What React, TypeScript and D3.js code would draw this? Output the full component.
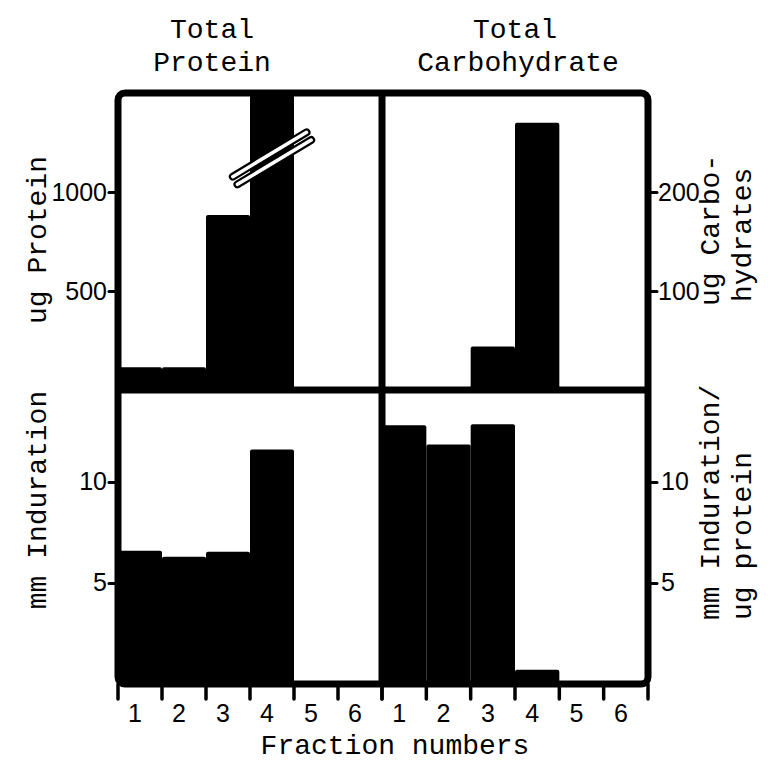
import React from 'react';
import * as d3 from 'd3';

// values, one entry per fraction
const fractions = ['1', '2', '3', '4', '5', '6'];
const proteinUg = [115, 115, 884, 1800, 0, 0]; // fraction 4 runs off scale (axis break)
const carbohydrateUg = [0, 0, 44, 270, 0, 0];
const indurationMm = [6.6, 6.3, 6.55, 11.6, 0, 0];
const indurationPerProtein = [12.8, 11.85, 12.85, 0.7, 0, 0];

const proteinTicks = [500, 1000];
const carbohydrateTicks = [100, 200];
const indurationTicks = [5, 10];

const MONO = '"Liberation Mono", "DejaVu Sans Mono", monospace';
const SANS = '"Liberation Sans", Arial, sans-serif';

const App = () => {
    const svgRef = React.useRef<SVGSVGElement>(null);

    const width = 784;
    const height = 770;
    const left = 118, mid = 382, right = 648;
    const top = 93, midY = 390, bottom = 684;

    React.useEffect(() => {
        const svg = d3.select(svgRef.current);
        svg.selectAll('*').remove();

        const xLeft = d3.scaleBand().domain(fractions).range([left, mid]).padding(0);
        const xRight = d3.scaleBand().domain(fractions).range([mid, right]).padding(0);

        const yProtein = d3.scaleLinear().domain([0, 1500]).range([midY, top]).clamp(true);
        const yCarbo = d3.scaleLinear().domain([0, 300]).range([midY, top]).clamp(true);
        const yInd = d3.scaleLinear().domain([0, 14.55]).range([bottom, midY]).clamp(true);

        const panels = [
            { x: xLeft, y: yProtein, values: proteinUg, base: midY },
            { x: xRight, y: yCarbo, values: carbohydrateUg, base: midY },
            { x: xLeft, y: yInd, values: indurationMm, base: bottom },
            { x: xRight, y: yInd, values: indurationPerProtein, base: bottom },
        ];

        // bars
        panels.forEach(p => {
            svg.append('g')
                .selectAll('rect')
                .data(p.values.map((v, i) => ({ f: fractions[i], v })).filter(d => d.v > 0))
                .join('rect')
                .attr('x', d => p.x(d.f)!)
                .attr('y', d => p.y(d.v))
                .attr('width', p.x.bandwidth())
                .attr('height', d => p.base - p.y(d.v))
                .attr('rx', 2)
                .attr('fill', 'black');
        });

        // axis break on protein fraction 4
        const bx = xLeft('4')! + xLeft.bandwidth() / 2;
        const by = yProtein(1170);
        const brk = svg.append('g').attr('transform', `translate(${bx},${by}) rotate(-31)`);
        [-4.5, 4.5].forEach(o => {
            brk.append('line')
                .attr('x1', -43).attr('x2', 43).attr('y1', o).attr('y2', o)
                .attr('stroke', 'black').attr('stroke-width', 8).attr('stroke-linecap', 'round');
        });
        [-4.5, 4.5].forEach(o => {
            brk.append('line')
                .attr('x1', -43).attr('x2', 43).attr('y1', o).attr('y2', o)
                .attr('stroke', 'white').attr('stroke-width', 3.5).attr('stroke-linecap', 'round');
        });

        // frame and dividers
        svg.append('rect')
            .attr('x', left).attr('y', top)
            .attr('width', right - left).attr('height', bottom - top)
            .attr('rx', 7)
            .attr('fill', 'none').attr('stroke', 'black').attr('stroke-width', 7);
        svg.append('line').attr('x1', mid).attr('x2', mid).attr('y1', top).attr('y2', bottom)
            .attr('stroke', 'black').attr('stroke-width', 7);
        svg.append('line').attr('x1', left).attr('x2', right).attr('y1', midY).attr('y2', midY)
            .attr('stroke', 'black').attr('stroke-width', 7);

        const styleAxis = (g: any) => {
            g.select('.domain').remove();
            g.selectAll('.tick line').attr('stroke', 'black').attr('stroke-width', 3)
                .attr('stroke-linecap', 'round');
            g.selectAll('.tick text').attr('fill', 'black')
                .style('font-family', SANS).style('font-size', '25px');
        };

        const fmt = d3.format('d');
        svg.append('g').attr('transform', `translate(${left - 3},0)`)
            .call(d3.axisLeft(yProtein).tickValues(proteinTicks).tickFormat(fmt).tickSize(6).tickPadding(2))
            .call(styleAxis);
        svg.append('g').attr('transform', `translate(${left - 3},0)`)
            .call(d3.axisLeft(yInd).tickValues(indurationTicks).tickFormat(fmt).tickSize(6).tickPadding(2))
            .call(styleAxis);
        svg.append('g').attr('transform', `translate(${right + 3},0)`)
            .call(d3.axisRight(yCarbo).tickValues(carbohydrateTicks).tickFormat(fmt).tickSize(6).tickPadding(1))
            .call(styleAxis);
        svg.append('g').attr('transform', `translate(${right + 3},0)`)
            .call(d3.axisRight(yInd).tickValues(indurationTicks).tickFormat(fmt).tickSize(6).tickPadding(4))
            .call(styleAxis);

        // bottom: tick marks on the band edges, numbers in between
        [xLeft, xRight].forEach(x => {
            const edges = d3.range(fractions.length + 1).map(i => x.range()[0] + i * x.step());
            svg.append('g').selectAll('line')
                .data(edges)
                .join('line')
                .attr('x1', d => d).attr('x2', d => d)
                .attr('y1', bottom).attr('y2', bottom + 15)
                .attr('stroke', 'black').attr('stroke-width', 3.5).attr('stroke-linecap', 'round');

            const ax = svg.append('g').attr('transform', `translate(-5,${bottom + 14})`)
                .call(d3.axisBottom(x).tickSize(0).tickPadding(6));
            ax.call(styleAxis);
            ax.selectAll('.tick line').remove();
        });

        // titles
        const mono = (t: string, x: number, y: number, anchor = 'middle', rot = 0) =>
            svg.append('text')
                .attr('transform', `translate(${x},${y}) rotate(${rot})`)
                .attr('text-anchor', anchor)
                .attr('dominant-baseline', 'central')
                .style('font-family', MONO).style('font-size', '28px')
                .attr('fill', 'black')
                .text(t);

        mono('Total', 212, 30);
        mono('Protein', 212, 63);
        mono('Total', 515, 30);
        mono('Carbohydrate', 518, 63);
        mono('ug Protein', 38, 240, 'middle', -90);
        mono('mm Induration', 38, 500, 'middle', -90);
        mono('ug Carbo-', 711, 306, 'start', -90);
        mono('hydrates', 743, 302, 'start', -90);
        mono('mm Induration/', 711, 620, 'start', -90);
        mono('ug protein', 743, 620, 'start', -90);
        mono('Fraction numbers', 395, 746);

    // eslint-disable-next-line react-hooks/exhaustive-deps
    }, []);

    return (
        <svg
            ref={svgRef}
            width={width}
            height={height}
            style={{ position: 'absolute', left: 0, top: 0, background: 'white' }}
        />
    );
};

export default App;
